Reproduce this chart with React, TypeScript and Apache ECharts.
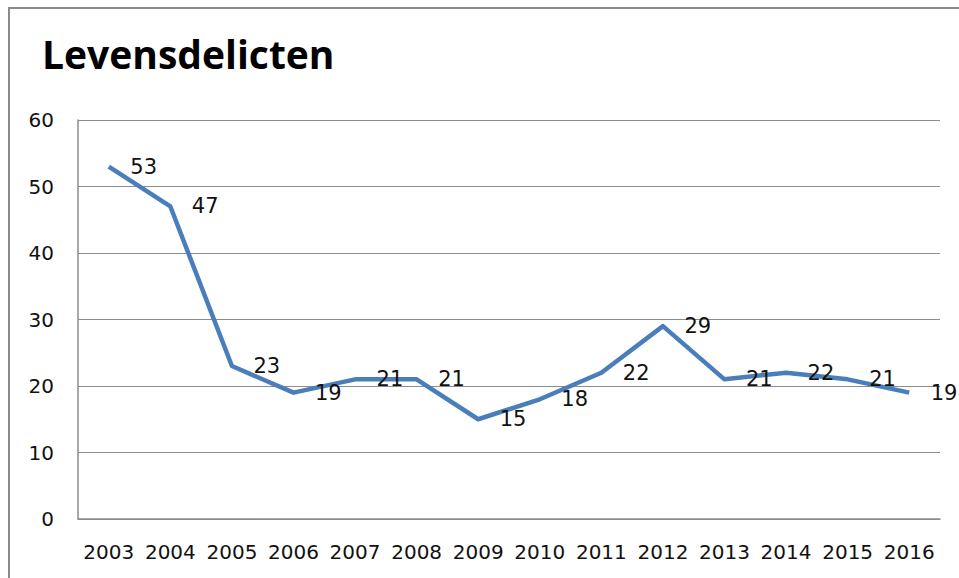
import React, { useEffect, useRef } from "react";
import * as echarts from "echarts";

const title = "Levensdelicten";
const years = ["2003", "2004", "2005", "2006", "2007", "2008", "2009", "2010", "2011", "2012", "2013", "2014", "2015", "2016"];
const values = [53, 47, 23, 19, 21, 21, 15, 18, 22, 29, 21, 22, 21, 19];
const yMin = 0;
const yMax = 60;
const yStep = 10;

export default function App() {
  const ref = useRef<HTMLDivElement>(null);
  useEffect(() => {
    if (!ref.current) return;
    const chart = echarts.init(ref.current, null, { renderer: "svg" });
    const numFont = "DejaVu Sans";
    chart.setOption({
      animation: false,
      backgroundColor: "#ffffff",
      graphic: [
        {
          type: "rect",
          shape: { x: 9, y: 8, width: 980, height: 600 },
          style: { fill: "none", stroke: "#8a8a8a", lineWidth: 2 },
          silent: true,
        },
        {
          type: "text",
          left: 42,
          top: 34,
          style: {
            text: title,
            fontFamily: "Open Sans",
            fontWeight: "bold",
            fontSize: 39,
            fill: "#000000",
          },
        },
      ],
      grid: { left: 78, right: 19, top: 120, bottom: 59, containLabel: false },
      xAxis: {
        type: "category",
        data: years,
        boundaryGap: true,
        axisLine: { show: true, lineStyle: { color: "#8c8c8c", width: 1.5 } },
        axisTick: { show: false },
        axisLabel: { color: "#111111", fontFamily: numFont, fontSize: 20, margin: 23, interval: 0 },
        splitLine: { show: false },
      },
      yAxis: {
        type: "value",
        min: yMin,
        max: yMax,
        interval: yStep,
        axisLine: { show: true, lineStyle: { color: "#8c8c8c", width: 1.5 } },
        axisTick: { show: false },
        axisLabel: { color: "#111111", fontFamily: numFont, fontSize: 20, margin: 24 },
        splitLine: { show: true, lineStyle: { color: "#8c8c8c", width: 1.2 } },
      },
      series: [
        {
          type: "line",
          data: values,
          showSymbol: true,
          symbol: "circle",
          symbolSize: 1,
          itemStyle: { color: "rgba(0,0,0,0)" },
          lineStyle: { color: "#4a7ebb", width: 4.5, join: "round" },
          label: {
            show: true,
            position: "right",
            distance: 21,
            color: "#111111",
            fontFamily: numFont,
            fontSize: 21,
          },
          labelLayout: { hideOverlap: false },
        },
      ],
    });
    return () => chart.dispose();
  }, []);
  return (
    <div
      ref={ref}
      style={{ position: "fixed", left: 0, top: 0, width: 959, height: 578 }}
    />
  );
}
